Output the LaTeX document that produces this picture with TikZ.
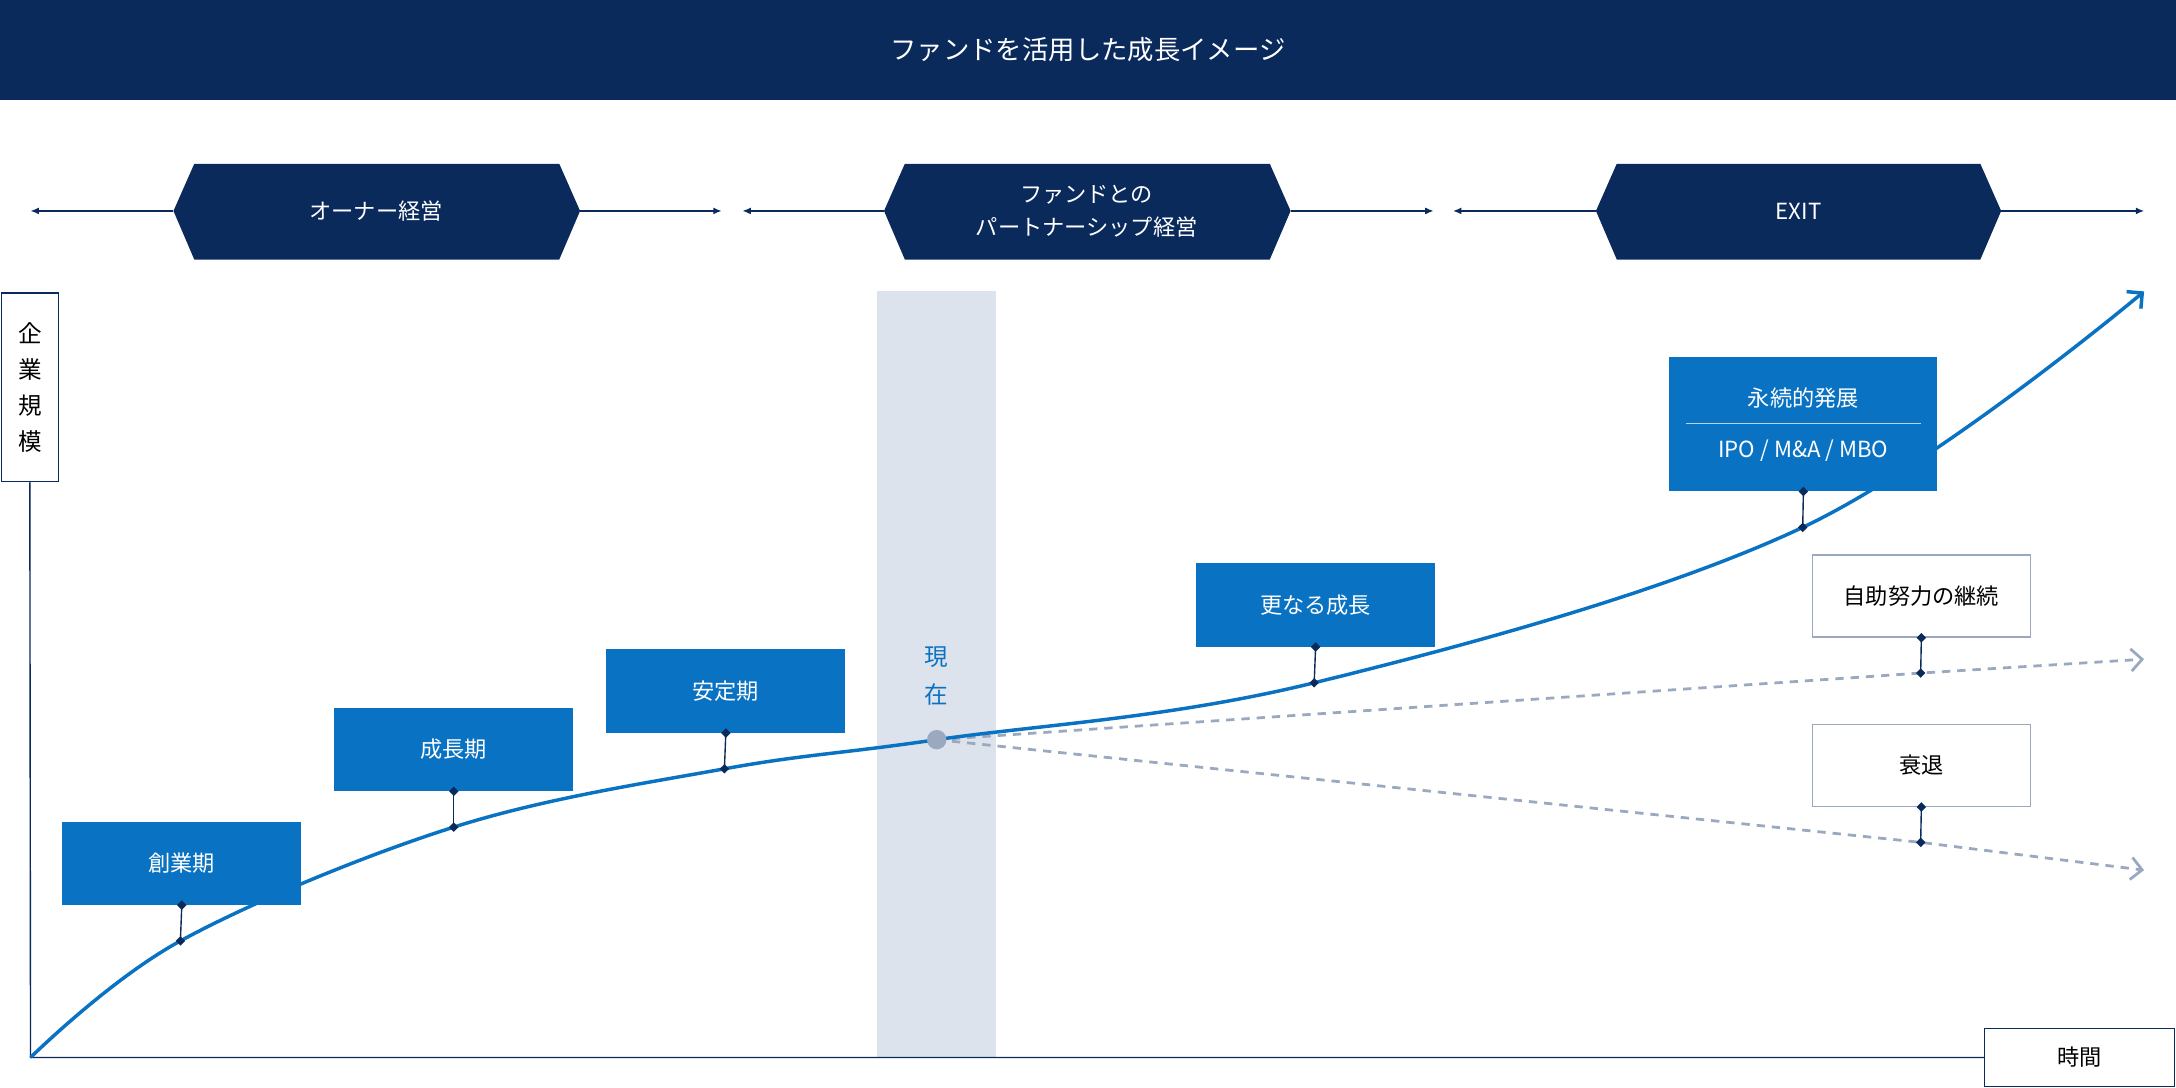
\documentclass[tikz,border=0pt]{standalone}
\usepackage{fontspec}
\setmainfont{Noto Sans CJK JP}
\usetikzlibrary{arrows.meta,shapes.geometric}
\definecolor{navy}{HTML}{0A2A5C}
\definecolor{cblue}{HTML}{0A72C2}
\definecolor{band}{HTML}{DCE3EC}
\definecolor{dgray}{HTML}{9AA8C0}
\tikzset{
 hexa/.style={fill=navy,draw=none},
 bluebox/.style={fill=cblue,text=white,font=\fontsize{16}{19}\selectfont},
 whitebox/.style={draw=dgray,line width=1pt,fill=white,text=black,font=\fontsize{16}{19}\selectfont},
 dia/.style={diamond,fill=navy,inner sep=0pt,minimum size=7pt},
 conn/.style={navy,line width=1pt},
 harr/.style={navy,line width=1pt,-{Latex[length=6pt,width=5pt]}},
}
\begin{document}
\begin{tikzpicture}[x=1pt,y=-1pt]
\useasboundingbox (0,0) rectangle (1568,784);
\fill[navy] (0,0) rectangle (1568,72);
\node[text=white,font=\fontsize{19}{22}\selectfont] (title) at (784,36) {ファンドを活用した成長イメージ};
% hexagons
\foreach \a/\b/\n in {125/418/h1,637/930/h2,1150/1442/h3}{
  \fill[hexa] (\a,152) -- (\a+15,118) -- (\b-15,118) -- (\b,152) -- (\b-15,187) -- (\a+15,187) -- cycle;
  \coordinate (\n l) at (\a,152); \coordinate (\n r) at (\b,152);
}
\node[text=white,font=\fontsize{16}{19}\selectfont] (t1) at (271,152) {オーナー経営};
\node[text=white,font=\fontsize{16}{24}\selectfont,align=center] (t2) at (783,152) {ファンドとの\\パートナーシップ経営};
\node[text=white,font=\fontsize{16}{19}\selectfont] (t3) at (1296,152) {EXIT};
\coordinate (a1) at (22,152); \coordinate (a2) at (520,152);
\coordinate (a3) at (535,152); \coordinate (a4) at (1033,152);
\coordinate (a5) at (1047,152); \coordinate (a6) at (1545,152);
\draw[harr] (h1l) -- (a1); \draw[harr] (h1r) -- (a2);
\draw[harr] (h2l) -- (a3); \draw[harr] (h2r) -- (a4);
\draw[harr] (h3l) -- (a5); \draw[harr] (h3r) -- (a6);
% band
\fill[band] (632,210) rectangle (718,762);
\node[text=cblue,font=\fontsize{17}{27}\selectfont,align=center] (now) at (675,487) {現\\在};
% axes
\node[draw=navy,line width=1pt,fill=white,minimum width=41pt,minimum height=136pt,font=\fontsize{17}{26}\selectfont,align=center] (yax) at (21.5,279) {企\\業\\規\\模};
\node[draw=navy,line width=1pt,fill=white,minimum width=137pt,minimum height=42pt,font=\fontsize{16}{19}\selectfont] (xax) at (1498.5,762) {時間};
\coordinate (o) at (22,762);
\draw[navy,line width=1pt] (yax.south) -- (o) -- (xax.west);
% curve points
\coordinate (p1) at (130,678); \coordinate (p2) at (327,596);
\coordinate (p3) at (522,554); \coordinate (p0) at (675,533);
\coordinate (p4) at (947,492); \coordinate (p5) at (1299,380);
\coordinate (pe) at (1545,210);
\coordinate (q1) at (1384,485); \coordinate (q2) at (1384,607);
\coordinate (d1) at (1545,475); \coordinate (d2) at (1545,627);
\draw[dgray,line width=2pt,dash pattern=on 6pt off 5pt,-{Straight Barb[length=8pt,width=16pt]}] (p0) -- (q1) -- (d1);
\draw[dgray,line width=2pt,dash pattern=on 6pt off 5pt,-{Straight Barb[length=8pt,width=16pt]}] (p0) -- (q2) -- (d2);
\draw[cblue,line width=2.5pt,-{Straight Barb[length=8pt,width=16pt]}] plot[smooth,tension=0.6] coordinates {(22,762) (130,678) (327,596) (522,554) (675,533) (947,492) (1299,380) (1545,210)};
\fill[dgray] (p0) circle (7);
% boxes
\node[bluebox,minimum width=172pt,minimum height=60pt] (b1) at (131,622) {創業期};
\node[bluebox,minimum width=172pt,minimum height=60pt] (b2) at (327,540) {成長期};
\node[bluebox,minimum width=172pt,minimum height=60pt] (b3) at (523,498) {安定期};
\node[bluebox,minimum width=172pt,minimum height=60pt] (b4) at (948,436) {更なる成長};
\node[bluebox,minimum width=193pt,minimum height=97pt] (b5) at (1299.5,305.5) {};
\node[text=white,font=\fontsize{16}{19}\selectfont] (b5a) at (1299.5,287) {永続的発展};
\node[text=white,font=\fontsize{16}{19}\selectfont] (b5b) at (1299.5,325) {IPO / M\&A / MBO};
\draw[white!70!cblue,line width=0.8pt] (1215,305) -- (1384,305);
\node[whitebox,minimum width=157pt,minimum height=59pt] (w1) at (1384.5,429.5) {自助努力の継続};
\node[whitebox,minimum width=157pt,minimum height=59pt] (w2) at (1384.5,551.5) {衰退};
% connectors
\foreach \b/\p in {b1/p1,b2/p2,b3/p3,b4/p4,b5/p5,w1/q1,w2/q2}{
  \draw[conn] (\b.south) -- (\p);
  \node[dia] at (\b.south) {};
  \node[dia] at (\p) {};
}
\end{tikzpicture}
\end{document}
